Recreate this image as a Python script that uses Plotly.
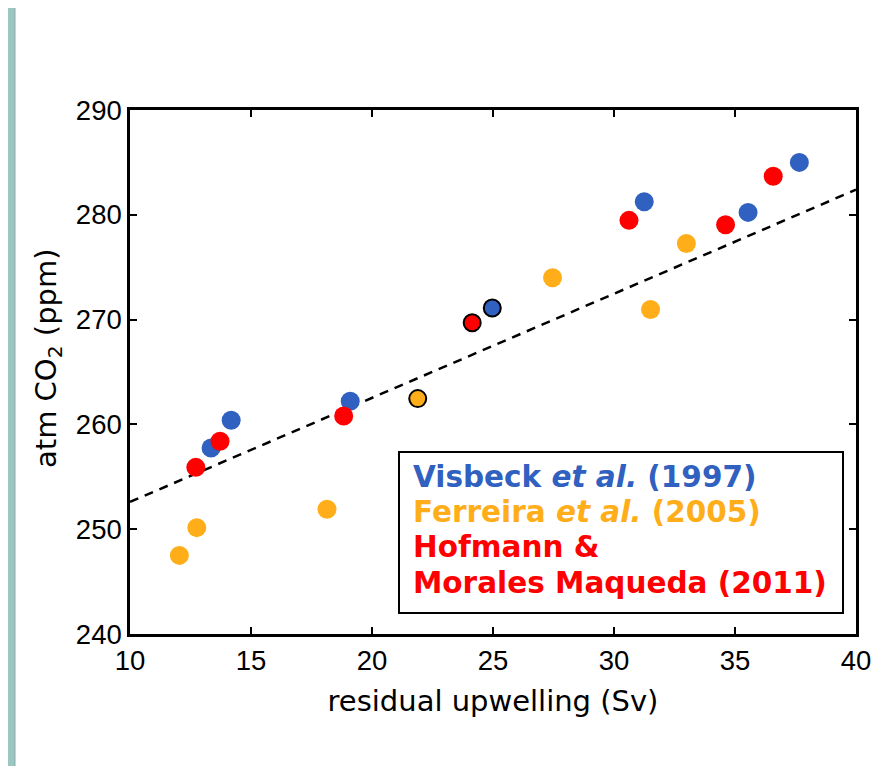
import plotly.graph_objects as go

# ---- data ----
visbeck_x = [13.35, 14.18, 19.10, 24.97, 31.25, 35.54, 37.66]
visbeck_y = [257.75, 260.40, 262.20, 271.10, 281.25, 280.23, 285.00]
visbeck_outlined = [0, 0, 0, 1, 0, 0, 0]

ferreira_x = [12.04, 12.76, 18.14, 21.89, 27.46, 31.51, 32.99]
ferreira_y = [247.50, 250.15, 251.90, 262.46, 274.00, 270.97, 277.27]
ferreira_outlined = [0, 0, 0, 1, 0, 0, 0]

hofmann_x = [12.72, 13.72, 18.83, 24.14, 30.62, 34.61, 36.58]
hofmann_y = [255.90, 258.40, 260.80, 269.70, 279.47, 279.05, 283.67]
hofmann_outlined = [0, 0, 0, 1, 0, 0, 0]

fit_x = [10, 40]
fit_y = [252.6, 282.4]

x_ticks = [10, 15, 20, 25, 30, 35, 40]
y_ticks = [240, 250, 260, 270, 280, 290]

BLUE = "#3060C0"
ORANGE = "#FFAE1A"
RED = "#FF0000"

fig = go.Figure()

fig.add_trace(go.Scatter(
    x=fit_x, y=fit_y, mode="lines",
    line=dict(color="black", width=2.5, dash="9px,7px"),
    showlegend=False, hoverinfo="skip"))

series = [
    (visbeck_x, visbeck_y, visbeck_outlined, BLUE),
    (ferreira_x, ferreira_y, ferreira_outlined, ORANGE),
    (hofmann_x, hofmann_y, hofmann_outlined, RED),
]

for xs, ys, outl, col in series:
    px = [x for x, o in zip(xs, outl) if not o]
    py = [y for y, o in zip(ys, outl) if not o]
    fig.add_trace(go.Scatter(
        x=px, y=py, mode="markers",
        marker=dict(color=col, size=19, line=dict(width=0)),
        showlegend=False))

for xs, ys, outl, col in series:
    px = [x for x, o in zip(xs, outl) if o]
    py = [y for y, o in zip(ys, outl) if o]
    fig.add_trace(go.Scatter(
        x=px, y=py, mode="markers",
        marker=dict(color=col, size=17, line=dict(width=2, color="black")),
        showlegend=False))

# page body has an 8px margin; compensate so the plot area lands at 130..856 x 110..634
OFF = 8
W, H = 895, 766
L, T = 130 - OFF, 110 - OFF
pw, ph = 726, 524
R = W - L - pw
B = H - T - ph


def pxx(p):
    return (p - OFF - L) / pw


def pxy(p):
    return 1 - (p - OFF - T) / ph


shapes = [
    # white panel over the teal background
    dict(type="rect", xref="paper", yref="paper",
         x0=pxx(15), x1=pxx(910), y0=pxy(790), y1=pxy(4),
         fillcolor="white", line=dict(color="#8fa9a6", width=1), layer="below"),
    # legend box
    dict(type="rect", xref="paper", yref="paper",
         x0=pxx(399), x1=pxx(843), y0=pxy(613), y1=pxy(452),
         fillcolor="white", line=dict(color="black", width=2), layer="above"),
]

font_leg = "DejaVu Sans, Verdana, sans-serif"
lines = [
    (f"<b><span style='color:{BLUE}'>Visbeck <i>et al.</i> (1997)</span></b>", 477),
    (f"<b><span style='color:{ORANGE}'>Ferreira <i>et al.</i> (2005)</span></b>", 512),
    (f"<b><span style='color:{RED}'>Hofmann &amp;</span></b>", 547),
    (f"<b><span style='color:{RED}'>Morales Maqueda (2011)</span></b>", 583),
]
annotations = []
for txt, yc in lines:
    annotations.append(dict(
        text=txt, xref="paper", yref="paper", x=pxx(411), y=pxy(yc),
        xanchor="left", yanchor="middle", showarrow=False,
        font=dict(family=font_leg, size=29.5)))

# y-axis title placed as rotated text
annotations.append(dict(
    text="atm CO<sub>2</sub> (ppm)", xref="paper", yref="paper",
    x=pxx(48), y=pxy(358), xanchor="center", yanchor="middle",
    textangle=-90, showarrow=False,
    font=dict(family="DejaVu Sans, Verdana, sans-serif", size=29, color="black")))

fig.update_layout(
    width=W, height=H,
    margin=dict(l=L, r=R, t=T, b=B),
    paper_bgcolor="#9CC6C2",
    plot_bgcolor="white",
    shapes=shapes,
    annotations=annotations,
    xaxis=dict(
        range=[10, 40], tickvals=x_ticks, ticktext=[str(v) for v in x_ticks],
        showline=True, linecolor="black", linewidth=2.5, mirror="allticks",
        ticks="inside", ticklen=7, tickwidth=2, tickcolor="black",
        showgrid=False, zeroline=False,
        tickfont=dict(family="Liberation Sans, Arial, sans-serif", size=27.5, color="black"),
        title=dict(text="residual upwelling (Sv)",
                   font=dict(family="DejaVu Sans, Verdana, sans-serif", size=29, color="black"),
                   standoff=16),
    ),
    yaxis=dict(
        range=[240, 290], tickvals=y_ticks, ticktext=[str(v) for v in y_ticks],
        showline=True, linecolor="black", linewidth=2.5, mirror="allticks",
        ticks="inside", ticklen=7, tickwidth=2, tickcolor="black",
        showgrid=False, zeroline=False,
        tickfont=dict(family="Liberation Sans, Arial, sans-serif", size=27.5, color="black"),
    ),
)

fig.write_html("out.html")
